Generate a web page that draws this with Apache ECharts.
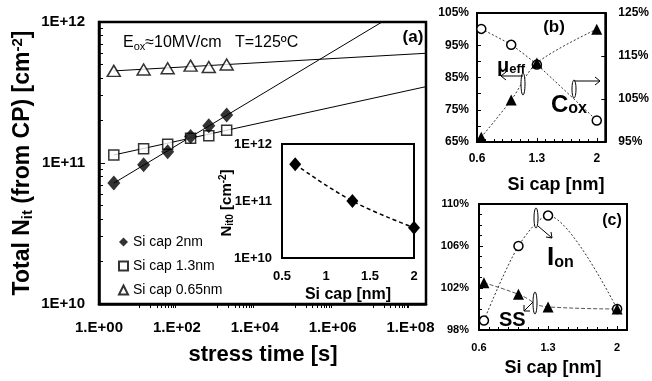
<!DOCTYPE html>
<html>
<head>
<meta charset="utf-8">
<script src="https://cdn.jsdelivr.net/npm/echarts@6/dist/echarts.min.js"></script>
<style>
  html, body { margin: 0; padding: 0; background: #fff; }
  #chart { width: 652px; height: 381px; }
</style>
</head>
<body>
<div id="chart"></div>
<script>
// (a) total interface-trap density vs stress time
const stressTime = [2.4, 14, 58, 225, 660, 1900];
const nitSiCap2 = [7.2e10, 9.7e10, 1.2e11, 1.54e11, 1.84e11, 2.19e11];
const nitSiCap13 = [1.14e11, 1.26e11, 1.36e11, 1.5e11, 1.56e11, 1.71e11];
const nitSiCap065 = [4.5e11, 4.6e11, 4.7e11, 4.9e11, 4.8e11, 5.0e11];
// power-law trend lines, evaluated at the first stress time and at the axis end
const fitTime = [2.4, 2.5e8];
const fitSiCap2 = [7.2e10, 1.54e12];
const fitSiCap13 = [1.14e11, 3.48e11];
const fitSiCap065 = [4.5e11, 6.0e11];
const seriesNames = ['Si cap 2nm', 'Si cap 1.3nm', 'Si cap 0.65nm'];

// inset: initial trap density vs Si cap thickness
const insetCap = [0.65, 1.3, 2];
const nit0 = [4.4e11, 1.0e11, 3.4e10];

// (b) and (c): normalised device parameters vs Si cap thickness
const siCap = [0.65, 1.0, 1.3, 2.0];
const coxPct = [121.3, 117.6, 113.0, 100.0];
const mobilityPct = [66.5, 78.0, 89.5, 100.0];
const ionPct = [98.9, 106.0, 108.9, 100.0];
const ssPct = [102.5, 101.4, 100.2, 100.0];

const FONT = 'Arial, "Liberation Sans", Helvetica, sans-serif';
const zip = (xs, ys) => xs.map((x, i) => [x, ys[i]]);
const pad2 = n => (n < 10 ? '0' : '') + n;

const boldLabel = (size, extra) => Object.assign({
  color: '#000', fontFamily: FONT, fontWeight: 'bold', fontSize: size
}, extra || {});

const chart = echarts.init(document.getElementById('chart'), null, { renderer: 'canvas' });

const option = {
  backgroundColor: '#fff',
  animation: false,
  grid: [
    { left: 99, top: 22, width: 327, height: 282, show: true, borderColor: '#000', borderWidth: 2.5, z: 0 },
    { left: 282, top: 144, width: 132, height: 114, show: true, borderColor: '#000', borderWidth: 2, backgroundColor: '#fff', z: 3 },
    { left: 477, top: 13, width: 140, height: 129, show: true, borderColor: '#000', borderWidth: 2 },
    { left: 479, top: 204, width: 148, height: 126, show: true, borderColor: '#000', borderWidth: 2 }
  ],
  xAxis: [
    {
      gridIndex: 0, type: 'log', logBase: 100, min: 1, max: 2.5e8,
      axisLine: { lineStyle: { color: '#000', width: 2.5 } },
      axisTick: { show: false },
      minorTick: { show: true, splitNumber: 10, length: 4, lineStyle: { color: '#000' } },
      splitLine: { show: false },
      axisLabel: boldLabel(15, { margin: 16, showMaxLabel: false,
        formatter: v => '1.E+' + pad2(Math.round(Math.log10(v))) })
    },
    {
      gridIndex: 1, type: 'value', min: 0.5, max: 2, interval: 0.5,
      axisLine: { lineStyle: { color: '#000', width: 2 } },
      axisTick: { inside: true, length: 4, lineStyle: { color: '#000' } },
      minorTick: { show: true, splitNumber: 2, length: 3, lineStyle: { color: '#000' } },
      splitLine: { show: false },
      axisLabel: boldLabel(13, { margin: 12 })
    },
    {
      gridIndex: 2, type: 'value', min: 0.6, max: 2.1, interval: 0.7,
      axisLine: { lineStyle: { color: '#000', width: 2 } },
      axisTick: { inside: true, length: 4, lineStyle: { color: '#000' } },
      minorTick: { show: true, splitNumber: 7, length: 3, lineStyle: { color: '#000' } },
      splitLine: { show: false },
      axisLabel: boldLabel(12, { margin: 11, showMaxLabel: false, formatter: v => String(+v.toFixed(1)) })
    },
    {
      gridIndex: 3, type: 'value', min: 0.6, max: 2.1, interval: 0.7,
      axisLine: { lineStyle: { color: '#000', width: 2 } },
      axisTick: { inside: true, length: 4, lineStyle: { color: '#000' } },
      minorTick: { show: true, splitNumber: 7, length: 3, lineStyle: { color: '#000' } },
      splitLine: { show: false },
      axisLabel: boldLabel(11, { margin: 12, showMaxLabel: false, formatter: v => String(+v.toFixed(1)) })
    }
  ],
  yAxis: [
    {
      gridIndex: 0, type: 'log', min: 1e10, max: 1e12,
      axisLine: { lineStyle: { color: '#000', width: 2.5 } },
      axisTick: { inside: true, length: 6, lineStyle: { color: '#000' } },
      minorTick: { show: true, splitNumber: 9, length: 4, lineStyle: { color: '#000' } },
      splitLine: { show: false },
      axisLabel: boldLabel(15, { margin: 14, formatter: v => '1E+' + Math.round(Math.log10(v)) })
    },
    {
      gridIndex: 1, type: 'log', min: 1e10, max: 1e12,
      axisLine: { lineStyle: { color: '#000', width: 2 } },
      axisTick: { inside: true, length: 5, lineStyle: { color: '#000' } },
      minorTick: { show: true, splitNumber: 9, length: 3, lineStyle: { color: '#000' } },
      splitLine: { show: false },
      axisLabel: boldLabel(13, { margin: 10, formatter: v => '1E+' + Math.round(Math.log10(v)) })
    },
    {
      gridIndex: 2, type: 'value', min: 65, max: 105, interval: 10, position: 'left',
      axisLine: { lineStyle: { color: '#000', width: 2 } },
      axisTick: { inside: true, length: 4, lineStyle: { color: '#000' } },
      minorTick: { show: true, splitNumber: 2, length: 4, lineStyle: { color: '#000' } },
      splitLine: { show: false },
      axisLabel: boldLabel(12, { margin: 8, formatter: '{value}%' })
    },
    {
      gridIndex: 2, type: 'value', min: 95, max: 125, interval: 10, position: 'right',
      axisLine: { lineStyle: { color: '#000', width: 2 } },
      axisTick: { inside: true, length: 4, lineStyle: { color: '#000' } },
      splitLine: { show: false },
      axisLabel: boldLabel(12, { margin: 13, formatter: '{value}%' })
    },
    {
      gridIndex: 3, type: 'value', min: 98, max: 110, interval: 4,
      axisLine: { lineStyle: { color: '#000', width: 2 } },
      axisTick: { inside: true, length: 4, lineStyle: { color: '#000' } },
      minorTick: { show: true, splitNumber: 4, length: 3, lineStyle: { color: '#000' } },
      splitLine: { show: false },
      axisLabel: boldLabel(11, { margin: 10, formatter: '{value}%' })
    }
  ],
  legend: {
    orient: 'vertical', left: 113, top: 230, itemWidth: 9, itemHeight: 9, itemGap: 10,
    textStyle: { fontFamily: FONT, fontSize: 14, color: '#000' },
    data: [
      { name: seriesNames[0], icon: 'diamond' },
      { name: seriesNames[1], icon: 'rect' },
      { name: seriesNames[2], icon: 'triangle' }
    ]
  },
  series: [
    // (a) trend lines
    { type: 'line', xAxisIndex: 0, yAxisIndex: 0, data: zip(fitTime, fitSiCap2), showSymbol: false,
      lineStyle: { color: '#000', width: 1 }, silent: true, z: 2 },
    { type: 'line', xAxisIndex: 0, yAxisIndex: 0, data: zip(fitTime, fitSiCap13), showSymbol: false,
      lineStyle: { color: '#000', width: 1 }, silent: true, z: 2 },
    { type: 'line', xAxisIndex: 0, yAxisIndex: 0, data: zip(fitTime, fitSiCap065), showSymbol: false,
      lineStyle: { color: '#000', width: 1 }, silent: true, z: 2 },
    // (a) measured points
    { name: seriesNames[0], type: 'scatter', xAxisIndex: 0, yAxisIndex: 0, data: zip(stressTime, nitSiCap2),
      symbol: 'diamond', symbolSize: [13, 15], itemStyle: { color: '#000' }, z: 4 },
    { name: seriesNames[1], type: 'scatter', xAxisIndex: 0, yAxisIndex: 0, data: zip(stressTime, nitSiCap13),
      symbol: 'rect', symbolSize: 10, itemStyle: { color: '#fff', borderColor: '#000', borderWidth: 1.5 }, z: 3 },
    { name: seriesNames[2], type: 'scatter', xAxisIndex: 0, yAxisIndex: 0, data: zip(stressTime, nitSiCap065),
      symbol: 'triangle', symbolSize: [13, 11], itemStyle: { color: '#fff', borderColor: '#000', borderWidth: 1.5 }, z: 3 },
    // inset
    { type: 'line', xAxisIndex: 1, yAxisIndex: 1, data: zip(insetCap, nit0), smooth: 0.4,
      symbol: 'diamond', symbolSize: [12, 14], itemStyle: { color: '#000' },
      lineStyle: { color: '#000', width: 1.5, type: [4, 3] }, z: 5 },
    // (b)
    { type: 'line', xAxisIndex: 2, yAxisIndex: 3, data: zip(siCap, coxPct), smooth: 0.2,
      symbol: 'circle', symbolSize: 9, itemStyle: { color: '#fff', borderColor: '#000', borderWidth: 1.5 },
      lineStyle: { color: '#333', width: 1, type: [2, 2] } },
    { type: 'line', xAxisIndex: 2, yAxisIndex: 2, data: zip(siCap, mobilityPct), smooth: 0.3,
      symbol: 'triangle', symbolSize: 11, itemStyle: { color: '#000' },
      lineStyle: { color: '#333', width: 1, type: [2, 2] } },
    // (c)
    { type: 'line', xAxisIndex: 3, yAxisIndex: 4, data: zip(siCap, ionPct), smooth: 0.3,
      symbol: 'circle', symbolSize: 9, itemStyle: { color: '#fff', borderColor: '#000', borderWidth: 1.5 },
      lineStyle: { color: '#333', width: 1, type: [2, 2] } },
    { type: 'line', xAxisIndex: 3, yAxisIndex: 4, data: zip(siCap, ssPct), smooth: 0.5,
      symbol: 'triangle', symbolSize: 11, itemStyle: { color: '#000' },
      lineStyle: { color: '#555', width: 1, type: [4, 2] } }
  ],
  graphic: [
    // (a) titles and notes
    { type: 'text', x: 23, y: 163, rotation: Math.PI / 2, z: 10,
      style: { text: 'Total N{sub|it} (from CP) [cm{sup|-2}]', align: 'center', verticalAlign: 'middle',
        font: 'bold 23px ' + FONT, fill: '#000',
        rich: { sub: { font: 'bold 15px ' + FONT, padding: [10, 0, 0, 0] },
                sup: { font: 'bold 15px ' + FONT, padding: [0, 0, 10, 0] } } } },
    { type: 'text', x: 263, y: 355, z: 10,
      style: { text: 'stress time [s]', align: 'center', verticalAlign: 'middle', font: 'bold 22px ' + FONT, fill: '#000' } },
    { type: 'text', x: 123, y: 43, z: 10,
      style: { text: 'E{sub|ox}≈10MV/cm   T=125ºC', align: 'left', verticalAlign: 'middle',
        font: '16px ' + FONT, fill: '#000',
        rich: { sub: { font: '11px ' + FONT, padding: [8, 0, 0, 0] } } } },
    { type: 'text', x: 413, y: 37, z: 10,
      style: { text: '(a)', align: 'center', verticalAlign: 'middle', font: 'bold 17px ' + FONT, fill: '#000' } },
    // inset titles
    { type: 'text', x: 227, y: 203, rotation: Math.PI / 2, z: 10,
      style: { text: 'N{sub|it0} [cm{sup|-2}]', align: 'center', verticalAlign: 'middle',
        font: 'bold 15px ' + FONT, fill: '#000',
        rich: { sub: { font: 'bold 10px ' + FONT, padding: [7, 0, 0, 0] },
                sup: { font: 'bold 10px ' + FONT, padding: [0, 0, 7, 0] } } } },
    { type: 'text', x: 348, y: 295, z: 10,
      style: { text: 'Si cap [nm]', align: 'center', verticalAlign: 'middle', font: 'bold 16px ' + FONT, fill: '#000' } },
    // (b) titles and annotations
    { type: 'text', x: 556, y: 185, z: 10,
      style: { text: 'Si cap [nm]', align: 'center', verticalAlign: 'middle', font: 'bold 18px ' + FONT, fill: '#000' } },
    { type: 'text', x: 554, y: 27, z: 10,
      style: { text: '(b)', align: 'center', verticalAlign: 'middle', font: 'bold 17px ' + FONT, fill: '#000' } },
    { type: 'text', x: 497, y: 66, z: 10,
      style: { text: 'μ{sub|eff}', align: 'left', verticalAlign: 'middle', font: 'bold 20px ' + FONT, fill: '#000',
        rich: { sub: { font: 'bold 13px ' + FONT, padding: [6, 0, 0, 0] } } } },
    { type: 'text', x: 551, y: 105, z: 10,
      style: { text: 'C{sub|ox}', align: 'left', verticalAlign: 'middle', font: 'bold 24px ' + FONT, fill: '#000',
        rich: { sub: { font: 'bold 16px ' + FONT, padding: [8, 0, 0, 0] } } } },
    { type: 'ellipse', z: 10, shape: { cx: 523, cy: 84, rx: 2, ry: 11 }, style: { fill: '#fff', stroke: '#000', lineWidth: 1 } },
    { type: 'polyline', z: 10, shape: { points: [[523, 76], [501, 76]] }, style: { stroke: '#000', lineWidth: 1, fill: null } },
    { type: 'polyline', z: 10, shape: { points: [[506, 72], [501, 76], [506, 80]] }, style: { stroke: '#000', lineWidth: 1, fill: null } },
    { type: 'ellipse', z: 10, shape: { cx: 574, cy: 89, rx: 2, ry: 9 }, style: { fill: '#fff', stroke: '#000', lineWidth: 1 } },
    { type: 'polyline', z: 10, shape: { points: [[574, 81], [600, 81]] }, style: { stroke: '#000', lineWidth: 1, fill: null } },
    { type: 'polyline', z: 10, shape: { points: [[595, 77], [600, 81], [595, 85]] }, style: { stroke: '#000', lineWidth: 1, fill: null } },
    // (c) titles and annotations
    { type: 'text', x: 553, y: 368, z: 10,
      style: { text: 'Si cap [nm]', align: 'center', verticalAlign: 'middle', font: 'bold 18px ' + FONT, fill: '#000' } },
    { type: 'text', x: 612, y: 221, z: 10,
      style: { text: '(c)', align: 'center', verticalAlign: 'middle', font: 'bold 16px ' + FONT, fill: '#000' } },
    { type: 'text', x: 547, y: 258, z: 10,
      style: { text: 'I{sub|on}', align: 'left', verticalAlign: 'middle', font: 'bold 26px ' + FONT, fill: '#000',
        rich: { sub: { font: 'bold 16px ' + FONT, padding: [10, 0, 0, 0] } } } },
    { type: 'text', x: 499, y: 320, z: 10,
      style: { text: 'SS', align: 'left', verticalAlign: 'middle', font: 'bold 20px ' + FONT, fill: '#000' } },
    { type: 'ellipse', z: 10, shape: { cx: 536, cy: 218, rx: 2, ry: 10 }, style: { fill: '#fff', stroke: '#000', lineWidth: 1 } },
    { type: 'polyline', z: 10, shape: { points: [[538, 226], [552, 238]] }, style: { stroke: '#000', lineWidth: 1, fill: null } },
    { type: 'polyline', z: 10, shape: { points: [[546, 237], [552, 238], [551, 232]] }, style: { stroke: '#000', lineWidth: 1, fill: null } },
    { type: 'ellipse', z: 10, shape: { cx: 535, cy: 303, rx: 2, ry: 11 }, style: { fill: '#fff', stroke: '#000', lineWidth: 1 } },
    { type: 'polyline', z: 10, shape: { points: [[533, 302], [524, 311]] }, style: { stroke: '#000', lineWidth: 1, fill: null } },
    { type: 'polyline', z: 10, shape: { points: [[524, 305], [524, 311], [530, 311]] }, style: { stroke: '#000', lineWidth: 1, fill: null } }
  ]
};

chart.setOption(option);
</script>
</body>
</html>
